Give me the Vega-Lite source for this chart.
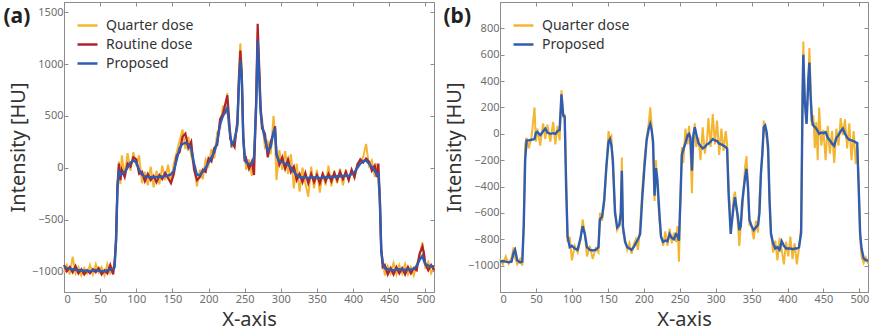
{
"$schema": "https://vega.github.io/schema/vega-lite/v6.json",
"padding": {"left": 2, "top": 1, "right": 0, "bottom": 0},
"config": {
  "font": "Noto Sans",
  "view": {"stroke": "#8c8c8c", "strokeWidth": 1},
  "axis": {"grid": false, "domainColor": "#8c8c8c", "tickColor": "#8c8c8c", "tickSize": -4, "labelColor": "#6e6e6e", "labelFontSize": 11, "titleFontSize": 20, "titleFontWeight": "normal", "titleColor": "#333333", "labelPadding": 5, "format": "d"},
  "legend": {"orient": "top-left", "offset": 12, "title": null, "symbolType": "stroke", "symbolSize": 400, "symbolStrokeWidth": 2.5, "labelFontSize": 14, "labelColor": "#333333", "labelOffset": 7, "rowPadding": 0, "padding": 0}
},
"datasets": {
"a": [
{"x":0,"q":-1010,"r":-940,"p":-960},{"x":4,"q":-940,"r":-1000,"p":-970},{"x":8,"q":-1030,"r":-960,"p":-975},{"x":12,"q":-860,"r":-1010,"p":-980},{"x":16,"q":-1020,"r":-950,"p":-985},{"x":20,"q":-960,"r":-1020,"p":-990},{"x":24,"q":-1040,"r":-980,"p":-990},{"x":28,"q":-970,"r":-1030,"p":-995},{"x":32,"q":-1020,"r":-990,"p":-995},{"x":36,"q":-940,"r":-1020,"p":-1000},{"x":40,"q":-1030,"r":-980,"p":-995},{"x":44,"q":-930,"r":-1010,"p":-985},{"x":48,"q":-1010,"r":-970,"p":-995},{"x":52,"q":-960,"r":-1030,"p":-1000},{"x":56,"q":-1040,"r":-990,"p":-1000},{"x":60,"q":-930,"r":-1020,"p":-990},{"x":64,"q":-1020,"r":-940,"p":-985},{"x":68,"q":-980,"r":-1030,"p":-975},{"x":70,"q":-900,"r":-920,"p":-960},{"x":72,"q":-650,"r":-720,"p":-700},{"x":74,"q":-150,"r":-180,"p":-200},{"x":76,"q":60,"r":40,"p":-20},{"x":78,"q":-160,"r":-120,"p":-70},{"x":80,"q":120,"r":-20,"p":-60},{"x":84,"q":-80,"r":-90,"p":-40},{"x":88,"q":140,"r":40,"p":0},{"x":92,"q":-30,"r":10,"p":50},{"x":96,"q":150,"r":100,"p":70},{"x":100,"q":20,"r":80,"p":50},{"x":104,"q":120,"r":-60,"p":-20},{"x":108,"q":-150,"r":-40,"p":-70},{"x":112,"q":-40,"r":-130,"p":-85},{"x":116,"q":-170,"r":-60,"p":-90},{"x":120,"q":10,"r":-120,"p":-90},{"x":124,"q":-190,"r":-80,"p":-95},{"x":128,"q":-30,"r":-140,"p":-90},{"x":132,"q":-160,"r":-70,"p":-90},{"x":136,"q":20,"r":-110,"p":-85},{"x":140,"q":-120,"r":-50,"p":-80},{"x":144,"q":30,"r":-100,"p":-75},{"x":148,"q":-140,"r":-150,"p":-65},{"x":152,"q":40,"r":-60,"p":-30},{"x":156,"q":150,"r":120,"p":80},{"x":160,"q":260,"r":150,"p":190},{"x":164,"q":370,"r":300,"p":230},{"x":168,"q":180,"r":330,"p":240},{"x":172,"q":300,"r":190,"p":225},{"x":176,"q":120,"r":250,"p":180},{"x":180,"q":10,"r":-20,"p":40},{"x":184,"q":-180,"r":-120,"p":-70},{"x":188,"q":-20,"r":-90,"p":-70},{"x":192,"q":-110,"r":-20,"p":-40},{"x":196,"q":80,"r":-40,"p":0},{"x":200,"q":20,"r":90,"p":50},{"x":204,"q":180,"r":60,"p":100},{"x":208,"q":90,"r":190,"p":150},{"x":212,"q":340,"r":220,"p":250},{"x":216,"q":380,"r":470,"p":420},{"x":220,"q":600,"r":520,"p":500},{"x":224,"q":520,"r":640,"p":550},{"x":226,"q":720,"r":700,"p":580},{"x":228,"q":400,"r":520,"p":450},{"x":230,"q":350,"r":280,"p":320},{"x":232,"q":190,"r":250,"p":220},{"x":236,"q":300,"r":200,"p":260},{"x":240,"q":380,"r":460,"p":420},{"x":242,"q":900,"r":850,"p":800},{"x":244,"q":1200,"r":1130,"p":1040},{"x":246,"q":950,"r":900,"p":870},{"x":248,"q":250,"r":330,"p":300},{"x":250,"q":160,"r":60,"p":100},{"x":252,"q":-20,"r":90,"p":50},{"x":256,"q":80,"r":-10,"p":35},{"x":260,"q":-80,"r":60,"p":40},{"x":263,"q":130,"r":-70,"p":100},{"x":266,"q":650,"r":700,"p":600},{"x":268,"q":1300,"r":1390,"p":1230},{"x":270,"q":950,"r":1000,"p":900},{"x":272,"q":500,"r":600,"p":560},{"x":274,"q":480,"r":380,"p":420},{"x":278,"q":200,"r":330,"p":280},{"x":282,"q":250,"r":100,"p":160},{"x":286,"q":130,"r":250,"p":200},{"x":290,"q":500,"r":330,"p":350},{"x":292,"q":300,"r":400,"p":370},{"x":294,"q":-120,"r":140,"p":120},{"x":298,"q":170,"r":30,"p":60},{"x":302,"q":-20,"r":100,"p":55},{"x":306,"q":160,"r":-10,"p":40},{"x":310,"q":-60,"r":80,"p":30},{"x":314,"q":130,"r":-40,"p":0},{"x":318,"q":-200,"r":10,"p":-40},{"x":322,"q":40,"r":-120,"p":-70},{"x":326,"q":-230,"r":-60,"p":-90},{"x":330,"q":0,"r":-140,"p":-95},{"x":334,"q":-150,"r":-50,"p":-90},{"x":338,"q":-280,"r":-150,"p":-100},{"x":342,"q":10,"r":-60,"p":-90},{"x":346,"q":-200,"r":-140,"p":-95},{"x":350,"q":-20,"r":-70,"p":-90},{"x":354,"q":-240,"r":-150,"p":-100},{"x":358,"q":-40,"r":-60,"p":-95},{"x":362,"q":-170,"r":-130,"p":-90},{"x":366,"q":20,"r":-60,"p":-95},{"x":370,"q":-180,"r":-130,"p":-85},{"x":374,"q":-30,"r":-50,"p":-90},{"x":378,"q":-150,"r":-120,"p":-80},{"x":382,"q":-10,"r":-40,"p":-85},{"x":386,"q":-170,"r":-110,"p":-80},{"x":390,"q":-20,"r":-40,"p":-75},{"x":394,"q":-120,"r":-120,"p":-80},{"x":398,"q":-30,"r":-20,"p":-60},{"x":402,"q":-100,"r":-90,"p":-45},{"x":406,"q":40,"r":30,"p":0},{"x":410,"q":60,"r":80,"p":40},{"x":414,"q":100,"r":50,"p":65},{"x":418,"q":230,"r":90,"p":70},{"x":422,"q":20,"r":60,"p":40},{"x":426,"q":70,"r":-30,"p":10},{"x":430,"q":-90,"r":20,"p":-30},{"x":433,"q":40,"r":-90,"p":-70},{"x":435,"q":-100,"r":40,"p":-60},{"x":437,"q":-350,"r":-280,"p":-300},{"x":439,"q":-820,"r":-780,"p":-800},{"x":441,"q":-880,"r":-960,"p":-920},{"x":444,"q":-1040,"r":-940,"p":-970},{"x":448,"q":-950,"r":-1030,"p":-980},{"x":452,"q":-1020,"r":-970,"p":-985},{"x":456,"q":-920,"r":-1030,"p":-990},{"x":460,"q":-1030,"r":-960,"p":-985},{"x":464,"q":-940,"r":-1020,"p":-980},{"x":468,"q":-1020,"r":-970,"p":-985},{"x":472,"q":-930,"r":-1030,"p":-985},{"x":476,"q":-1030,"r":-960,"p":-980},{"x":480,"q":-960,"r":-1020,"p":-985},{"x":484,"q":-1040,"r":-970,"p":-975},{"x":488,"q":-930,"r":-990,"p":-950},{"x":492,"q":-860,"r":-830,"p":-890},{"x":496,"q":-720,"r":-760,"p":-850},{"x":498,"q":-870,"r":-820,"p":-900},{"x":500,"q":-960,"r":-930,"p":-930},{"x":504,"q":-910,"r":-990,"p":-945},{"x":508,"q":-1020,"r":-940,"p":-950},{"x":512,"q":-960,"r":-990,"p":-950}
],
"b": [
{"x":0,"q":-950,"p":-970},{"x":4,"q":-990,"p":-965},{"x":8,"q":-930,"p":-970},{"x":12,"q":-985,"p":-975},{"x":16,"q":-940,"p":-970},{"x":19,"q":-860,"p":-900},{"x":21,"q":-940,"p":-880},{"x":24,"q":-990,"p":-960},{"x":28,"q":-950,"p":-975},{"x":31,"q":-1000,"p":-970},{"x":33,"q":-700,"p":-700},{"x":35,"q":-80,"p":-200},{"x":37,"q":-30,"p":-50},{"x":40,"q":-110,"p":-50},{"x":44,"q":-20,"p":-45},{"x":48,"q":200,"p":-40},{"x":50,"q":-60,"p":10},{"x":52,"q":40,"p":15},{"x":56,"q":-90,"p":-10},{"x":60,"q":80,"p":20},{"x":63,"q":-40,"p":40},{"x":66,"q":70,"p":10},{"x":70,"q":-60,"p":0},{"x":74,"q":90,"p":5},{"x":77,"q":-80,"p":0},{"x":80,"q":60,"p":20},{"x":83,"q":-50,"p":30},{"x":85.5,"q":330,"p":300},{"x":88,"q":120,"p":140},{"x":90,"q":150,"p":130},{"x":92,"q":-300,"p":-400},{"x":94,"q":-820,"p":-780},{"x":97,"q":-780,"p":-860},{"x":100,"q":-960,"p":-850},{"x":104,"q":-850,"p":-870},{"x":108,"q":-900,"p":-880},{"x":112,"q":-800,"p":-790},{"x":115,"q":-650,"p":-700},{"x":118,"q":-760,"p":-760},{"x":121,"q":-930,"p":-860},{"x":125,"q":-850,"p":-880},{"x":129,"q":-950,"p":-885},{"x":133,"q":-870,"p":-880},{"x":137,"q":-900,"p":-860},{"x":139,"q":-600,"p":-650},{"x":142,"q":-660,"p":-630},{"x":145,"q":-520,"p":-500},{"x":148,"q":-250,"p":-250},{"x":151,"q":20,"p":-60},{"x":153,"q":-40,"p":-40},{"x":155,"q":-20,"p":-90},{"x":157,"q":-230,"p":-200},{"x":160,"q":-560,"p":-600},{"x":163,"q":-730,"p":-710},{"x":166,"q":-700,"p":-690},{"x":168,"q":-650,"p":-600},{"x":169.5,"q":-180,"p":-280},{"x":171,"q":-740,"p":-700},{"x":174,"q":-800,"p":-820},{"x":177,"q":-880,"p":-860},{"x":180,"q":-830,"p":-870},{"x":183,"q":-910,"p":-880},{"x":186,"q":-840,"p":-860},{"x":189,"q":-800,"p":-830},{"x":192,"q":-880,"p":-800},{"x":195,"q":-700,"p":-760},{"x":198,"q":-420,"p":-480},{"x":201,"q":-200,"p":-250},{"x":204,"q":-30,"p":-50},{"x":207,"q":80,"p":40},{"x":209,"q":200,"p":75},{"x":211,"q":70,"p":30},{"x":213,"q":-130,"p":-60},{"x":215,"q":-510,"p":-470},{"x":217,"q":-200,"p":-260},{"x":219,"q":-400,"p":-350},{"x":221.5,"q":-640,"p":-580},{"x":224,"q":-780,"p":-780},{"x":227,"q":-850,"p":-820},{"x":230,"q":-740,"p":-810},{"x":233,"q":-850,"p":-815},{"x":236,"q":-720,"p":-760},{"x":239,"q":-830,"p":-790},{"x":242,"q":-750,"p":-800},{"x":245,"q":-820,"p":-760},{"x":247,"q":-700,"p":-770},{"x":249,"q":-970,"p":-810},{"x":251,"q":-500,"p":-500},{"x":253,"q":-100,"p":-160},{"x":255,"q":-220,"p":-120},{"x":258,"q":40,"p":-70},{"x":261,"q":-80,"p":-10},{"x":263,"q":60,"p":0},{"x":265,"q":-100,"p":-30},{"x":267,"q":-450,"p":-280},{"x":269,"q":-60,"p":-10},{"x":271,"q":80,"p":50},{"x":273,"q":-100,"p":0},{"x":276,"q":-30,"p":-70},{"x":279,"q":-200,"p":-90},{"x":282,"q":50,"p":-110},{"x":285,"q":-150,"p":-100},{"x":288,"q":-40,"p":-80},{"x":290,"q":120,"p":-75},{"x":293,"q":-100,"p":-60},{"x":296,"q":150,"p":-40},{"x":299,"q":-80,"p":-50},{"x":302,"q":100,"p":-55},{"x":305,"q":-160,"p":-75},{"x":308,"q":40,"p":-80},{"x":311,"q":-130,"p":-90},{"x":314,"q":20,"p":-100},{"x":316,"q":-80,"p":-115},{"x":318,"q":-380,"p":-450},{"x":321,"q":-720,"p":-760},{"x":323,"q":-650,"p":-650},{"x":325,"q":-480,"p":-550},{"x":327,"q":-440,"p":-480},{"x":329,"q":-560,"p":-560},{"x":331,"q":-690,"p":-630},{"x":333,"q":-850,"p":-730},{"x":335,"q":-690,"p":-700},{"x":337,"q":-580,"p":-520},{"x":339,"q":-420,"p":-420},{"x":341,"q":-250,"p":-330},{"x":343,"q":-170,"p":-265},{"x":345,"q":-420,"p":-400},{"x":347,"q":-690,"p":-650},{"x":350,"q":-700,"p":-700},{"x":353,"q":-800,"p":-730},{"x":356,"q":-660,"p":-710},{"x":359,"q":-750,"p":-690},{"x":361,"q":-480,"p":-600},{"x":363,"q":-320,"p":-300},{"x":365,"q":-150,"p":-150},{"x":367,"q":100,"p":50},{"x":369,"q":20,"p":63},{"x":371,"q":-30,"p":13},{"x":373,"q":-150,"p":-100},{"x":375,"q":-500,"p":-500},{"x":377,"q":-740,"p":-760},{"x":380,"q":-900,"p":-830},{"x":383,"q":-810,"p":-870},{"x":386,"q":-960,"p":-860},{"x":389,"q":-790,"p":-880},{"x":392,"q":-880,"p":-815},{"x":395,"q":-990,"p":-850},{"x":398,"q":-820,"p":-870},{"x":401,"q":-930,"p":-870},{"x":404,"q":-780,"p":-870},{"x":407,"q":-950,"p":-875},{"x":410,"q":-830,"p":-870},{"x":413,"q":-990,"p":-870},{"x":416,"q":-870,"p":-860},{"x":419,"q":-700,"p":-750},{"x":421,"q":300,"p":300},{"x":422,"q":700,"p":600},{"x":424,"q":260,"p":250},{"x":426.5,"q":80,"p":75},{"x":429,"q":400,"p":420},{"x":430.5,"q":650,"p":540},{"x":432,"q":380,"p":300},{"x":434,"q":60,"p":100},{"x":436,"q":140,"p":63},{"x":438,"q":-110,"p":50},{"x":440,"q":90,"p":40},{"x":442,"q":-200,"p":20},{"x":444,"q":200,"p":0},{"x":447,"q":-90,"p":10},{"x":450,"q":30,"p":5},{"x":453,"q":-200,"p":13},{"x":456,"q":60,"p":-30},{"x":459,"q":-150,"p":-50},{"x":462,"q":20,"p":-75},{"x":465,"q":-220,"p":-90},{"x":468,"q":40,"p":-30},{"x":471,"q":-90,"p":-10},{"x":474,"q":120,"p":20},{"x":477,"q":-10,"p":40},{"x":480,"q":110,"p":0},{"x":483,"q":-110,"p":-30},{"x":486,"q":80,"p":-45},{"x":489,"q":-200,"p":-50},{"x":492,"q":20,"p":-55},{"x":495,"q":-230,"p":-65},{"x":497,"q":-100,"p":-70},{"x":499,"q":-350,"p":-400},{"x":501,"q":-780,"p":-750},{"x":503,"q":-930,"p":-870},{"x":506,"q":-980,"p":-945},{"x":509,"q":-940,"p":-960},{"x":512,"q":-985,"p":-960}
]
},
"spacing": 2,
"hconcat": [
{
  "width": 370, "height": 290,
  "data": {"name": "a"},
  "layer": [
    {"mark": {"type": "line", "strokeWidth": 2},
     "encoding": {
       "x": {"field": "x", "type": "quantitative", "scale": {"domain": [0, 512], "nice": false, "zero": false}, "axis": {"orient": "bottom", "values": [0,50,100,150,200,250,300,350,400,450,500], "title": "X-axis", "labelFlush": true, "titlePadding": 5}},
       "y": {"field": "q", "type": "quantitative", "scale": {"domain": [-1200, 1600], "nice": false, "zero": false}, "axis": {"orient": "left", "values": [-1000,-500,0,500,1000,1500], "title": "Intensity [HU]", "titlePadding": 3}},
       "color": {"datum": "Quarter dose", "type": "nominal", "scale": {"domain": ["Quarter dose", "Routine dose", "Proposed"], "range": ["#F4B630", "#B0222C", "#2F5DB1"]}}
     }},
    {"mark": {"type": "line", "strokeWidth": 2.2},
     "encoding": {
       "x": {"field": "x", "type": "quantitative", "axis": null},
       "y": {"field": "r", "type": "quantitative", "axis": null},
       "color": {"datum": "Routine dose", "type": "nominal"}
     }},
    {"mark": {"type": "line", "strokeWidth": 2.4},
     "encoding": {
       "x": {"field": "x", "type": "quantitative", "axis": {"orient": "top", "values": [0,50,100,150,200,250,300,350,400,450,500], "labels": false, "title": "(a)", "titleX": -61, "titleY": 3, "titleAlign": "left", "titleBaseline": "top", "titleAngle": 0, "titleFontWeight": "bold", "titleFontSize": 21, "titleColor": "#222222"}},
       "y": {"field": "p", "type": "quantitative", "axis": {"orient": "right", "values": [-1000,-500,0,500,1000,1500], "labels": false, "title": null}},
       "color": {"datum": "Proposed", "type": "nominal"}
     }}
  ],
  "resolve": {"axis": {"x": "independent", "y": "independent"}}
},
{
  "width": 368, "height": 290,
  "data": {"name": "b"},
  "layer": [
    {"mark": {"type": "line", "strokeWidth": 2},
     "encoding": {
       "x": {"field": "x", "type": "quantitative", "scale": {"domain": [0, 512], "nice": false, "zero": false}, "axis": {"orient": "bottom", "values": [0,50,100,150,200,250,300,350,400,450,500], "title": "X-axis", "labelFlush": true, "titlePadding": 5}},
       "y": {"field": "q", "type": "quantitative", "scale": {"domain": [-1200, 1000], "nice": false, "zero": false}, "axis": {"orient": "left", "values": [-1000,-800,-600,-400,-200,0,200,400,600,800], "title": "Intensity [HU]", "titlePadding": 3}},
       "color": {"datum": "Quarter dose", "type": "nominal", "scale": {"domain": ["Quarter dose", "Proposed"], "range": ["#F4B630", "#2F5DB1"]}}
     }},
    {"mark": {"type": "line", "strokeWidth": 2.4},
     "encoding": {
       "x": {"field": "x", "type": "quantitative", "axis": {"orient": "top", "values": [0,50,100,150,200,250,300,350,400,450,500], "labels": false, "title": "(b)", "titleX": -57, "titleY": 3, "titleAlign": "left", "titleBaseline": "top", "titleAngle": 0, "titleFontWeight": "bold", "titleFontSize": 21, "titleColor": "#222222"}},
       "y": {"field": "p", "type": "quantitative", "axis": {"orient": "right", "values": [-1000,-800,-600,-400,-200,0,200,400,600,800], "labels": false, "title": null}},
       "color": {"datum": "Proposed", "type": "nominal"}
     }}
  ],
  "resolve": {"axis": {"x": "independent", "y": "independent"}}
}
],
"resolve": {"scale": {"color": "independent", "x": "independent", "y": "independent"}, "legend": {"color": "independent"}}
}
